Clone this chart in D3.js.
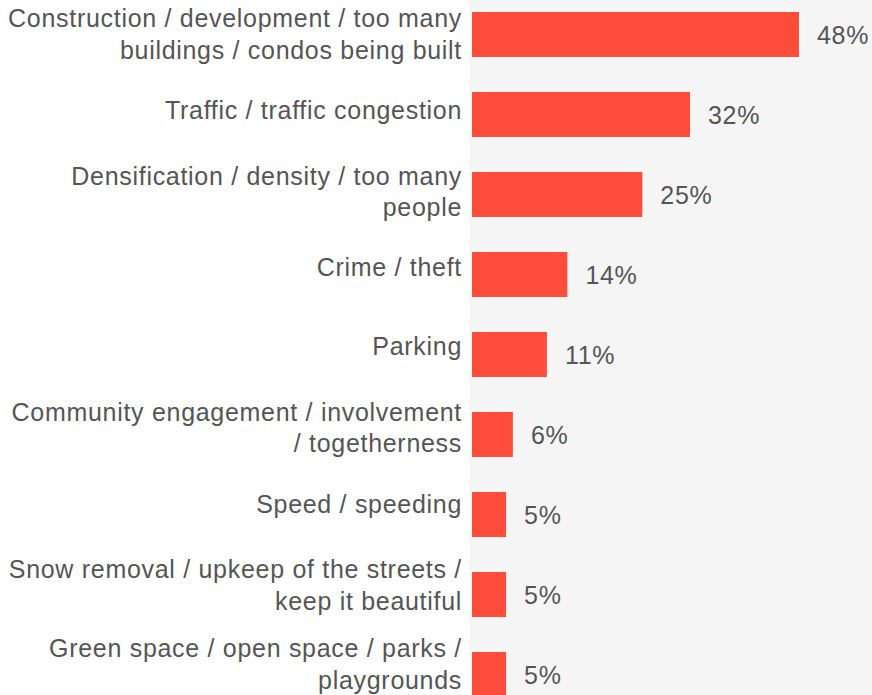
<!DOCTYPE html>
<html>
<head>
<meta charset="utf-8">
<script src="https://cdn.jsdelivr.net/npm/d3@7"></script>
<style>
  body { margin: 0; background: #fff; }
  text { font-family: "Liberation Sans", Arial, Helvetica, sans-serif; letter-spacing: 0.7px; }
</style>
</head>
<body>
<div id="chart"></div>
<script>
// Chart values
const categories = [
    ["Construction / development / too many", "buildings / condos being built"],
    ["Traffic / traffic congestion"],
    ["Densification / density / too many", "people"],
    ["Crime / theft"],
    ["Parking"],
    ["Community engagement / involvement", "/ togetherness"],
    ["Speed / speeding"],
    ["Snow removal / upkeep of the streets /", "keep it beautiful"],
    ["Green space / open space / parks /", "playgrounds"]
];
const values = [48, 32, 25, 14, 11, 6, 5, 5, 5];

const width = 872, height = 695;
const plotLeft = 472;

const svg = d3.select("#chart")
              .append("svg")
              .attr("width", width)
              .attr("height", height);

// gray panel behind the bars
svg.append("rect")
   .attr("x", plotLeft - 2)
   .attr("y", 0)
   .attr("width", width - plotLeft + 2)
   .attr("height", height)
   .attr("fill", "#f5f5f5");

const x = d3.scaleLinear()
            .domain([0, 48])
            .range([plotLeft, 799]);

const y = d3.scaleBand()
            .domain(d3.range(values.length))
            .range([-5.5, 714.5])
            .paddingInner(0.4375)
            .paddingOuter(0.21875);

// labels sit on a slightly tighter grid than the bars
const yLabel = d3.scalePoint()
                 .domain(d3.range(values.length))
                 .range([27, 657]);

const rows = svg.append("g")
                .selectAll("g")
                .data(values)
                .join("g");

rows.append("rect")
    .attr("x", x(0))
    .attr("y", (d, i) => y(i))
    .attr("width", d => x(d) - x(0))
    .attr("height", y.bandwidth())
    .attr("fill", "#ff4d3c");

rows.append("text")
    .attr("x", d => x(d) + 18)
    .attr("y", (d, i) => y(i) + y.bandwidth() / 2 + 9)
    .attr("font-size", 25)
    .attr("fill", "#555")
    .text(d => d + "%");

// category labels, right aligned
rows.append("text")
    .attr("text-anchor", "end")
    .attr("font-size", 25)
    .attr("fill", "#555")
    .each(function(d, i) {
        const lines = categories[i];
        const base = yLabel(i) + (lines.length === 1 ? 13 : 0);
        d3.select(this).selectAll("tspan")
          .data(lines)
          .join("tspan")
          .attr("x", 462)
          .attr("y", (l, j) => base + j * 31.5)
          .text(l => l);
    });
</script>
</body>
</html>
